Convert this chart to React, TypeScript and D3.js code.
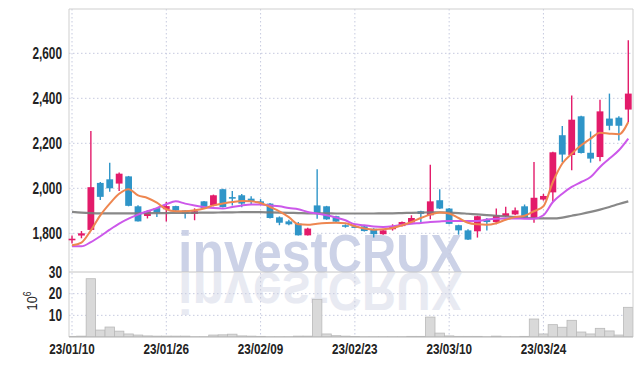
import React, { useEffect, useRef } from 'react'
import * as d3 from 'd3'

// trading days shown on the chart (yy/mm/dd)
const dates = [
  '23/01/10', '23/01/11', '23/01/12', '23/01/13', '23/01/16', '23/01/17', '23/01/18', '23/01/19', '23/01/20', '23/01/25',
  '23/01/26', '23/01/27', '23/01/30', '23/01/31', '23/02/01', '23/02/02', '23/02/03', '23/02/06', '23/02/07', '23/02/08',
  '23/02/09', '23/02/10', '23/02/13', '23/02/14', '23/02/15', '23/02/16', '23/02/17', '23/02/20', '23/02/21', '23/02/22',
  '23/02/23', '23/02/24', '23/02/27', '23/02/28', '23/03/02', '23/03/03', '23/03/06', '23/03/07', '23/03/08', '23/03/09',
  '23/03/10', '23/03/13', '23/03/14', '23/03/15', '23/03/16', '23/03/17', '23/03/20', '23/03/21', '23/03/22', '23/03/23',
  '23/03/24', '23/03/27', '23/03/28', '23/03/29', '23/03/30', '23/03/31', '23/04/03', '23/04/04', '23/04/05', '23/04/06',
]

const opens = [
  1770, 1790, 1815, 2024, 2040, 2021, 2053, 1920, 1877, 1912,
  1907, 1921, 1902, 1886, 1942, 1924, 1996, 1961, 1969, 1954,
  1942, 1932, 1871, 1853, 1843, 1791, 1924, 1920, 1876, 1836,
  1831, 1831, 1820, 1796, 1818, 1832, 1848, 1898, 1880, 1947,
  1910, 1836, 1813, 1809, 1862, 1850, 1877, 1884, 1920, 1868,
  1950, 1982, 2236, 2148, 2320, 2158, 2139, 2310, 2314, 2350,
]
const highs = [
  1790, 1810, 2255, 2028, 2114, 2070, 2055, 1925, 1903, 1914,
  1939, 1923, 1904, 1911, 1944, 1972, 1998, 1988, 1975, 1965,
  1952, 1935, 1875, 1860, 1850, 1825, 2085, 1922, 1878, 1840,
  1840, 1833, 1823, 1816, 1840, 1852, 1880, 1900, 2105, 1996,
  1912, 1838, 1818, 1878, 1868, 1910, 1918, 1915, 1928, 2117,
  1975, 2162, 2277, 2413, 2322, 2253, 2394, 2421, 2320, 2658,
]
const lows = [
  1755, 1778, 1810, 1948, 1985, 1988, 1920, 1852, 1866, 1872,
  1853, 1898, 1866, 1858, 1910, 1920, 1915, 1924, 1916, 1930,
  1925, 1866, 1836, 1836, 1790, 1790, 1865, 1860, 1850, 1825,
  1822, 1808, 1781, 1794, 1812, 1830, 1842, 1850, 1862, 1908,
  1840, 1794, 1770, 1781, 1813, 1840, 1872, 1880, 1866, 1847,
  1945, 1940, 2116, 2080, 2155, 2114, 2120, 2258, 2213, 2295,
]
const closes = [
  1776, 1800, 2005, 1962, 2000, 2065, 1922, 1853, 1898, 1892,
  1921, 1901, 1888, 1898, 1912, 1969, 1917, 1955, 1932, 1940,
  1937, 1868, 1847, 1840, 1791, 1821, 1888, 1862, 1852, 1830,
  1825, 1810, 1796, 1813, 1832, 1850, 1868, 1886, 1942, 1910,
  1842, 1813, 1772, 1876, 1850, 1880, 1889, 1902, 1868, 1958,
  1966, 2160, 2150, 2305, 2157, 2132, 2342, 2278, 2278, 2421,
]

// volume, millions of shares
const volumes = [
  0.3, 0.4, 26.9, 3.2, 4.6, 2.7, 1.4, 0.9, 0.5, 0.4,
  0.4, 0.4, 0.4, 0.1, 0.1, 0.9, 1.0, 1.3, 0.5, 0.4,
  0.3, 0.1, 0.1, 0.1, 0.4, 0.4, 17.4, 1.4, 0.6, 0.4,
  0.2, 0.1, 0.1, 0.1, 0.1, 0.1, 0.3, 0.3, 9.2, 1.8,
  0.5, 0.3, 0.3, 0.3, 0.1, 0.4, 0.1, 0.1, 0.3, 8.3,
  1.4, 5.7, 4.5, 7.7, 2.3, 1.4, 4.0, 2.8, 0.9, 13.7,
]

// moving averages
const maShort = [
  1747, 1759, 1813, 1880, 1932, 1976, 1996, 1969, 1957, 1936,
  1907, 1898, 1898, 1902, 1910, 1924, 1932, 1939, 1944, 1942,
  1935, 1917, 1898, 1872, 1840, 1838, 1843, 1846, 1847, 1845,
  1831, 1821, 1816, 1818, 1824, 1836, 1850, 1868, 1883, 1892,
  1888, 1868, 1847, 1840, 1838, 1845, 1860, 1872, 1878, 1898,
  1920, 2028, 2110, 2154, 2191, 2221, 2247, 2243, 2240, 2295,
]
const maMid = [
  1742, 1742, 1761, 1787, 1816, 1843, 1865, 1883, 1898, 1912,
  1929, 1942, 1932, 1924, 1917, 1912, 1910, 1917, 1924, 1928,
  1928, 1924, 1920, 1912, 1907, 1895, 1888, 1880, 1870, 1858,
  1840, 1836, 1830, 1828, 1831, 1838, 1843, 1846, 1850, 1853,
  1855, 1855, 1855, 1855, 1861, 1865, 1866, 1866, 1865, 1865,
  1880, 1939, 1976, 2006, 2028, 2050, 2095, 2132, 2169, 2221,
]
const maLong = [
  1895, 1892, 1890, 1889, 1889, 1889, 1889, 1889, 1890, 1890,
  1890, 1891, 1891, 1891, 1892, 1892, 1893, 1893, 1894, 1894,
  1894, 1893, 1892, 1891, 1890, 1889, 1889, 1889, 1888, 1888,
  1888, 1888, 1888, 1889, 1889, 1890, 1891, 1892, 1893, 1893,
  1892, 1890, 1887, 1884, 1881, 1878, 1875, 1872, 1869, 1867,
  1866, 1866, 1870, 1878, 1886, 1895, 1905, 1917, 1930, 1942,
]

const priceTicks = [1800, 2000, 2200, 2400, 2600]
const volumeTicks = [10, 20, 30]
const dateTicks = ['23/01/10', '23/01/26', '23/02/09', '23/02/23', '23/03/10', '23/03/24']

const W = 642
const H = 366
const plotLeft = 69
const plotRight = 633
const plotTop = 9
const divider = 272
const plotBottom = 337

const UP = '#e31b6a'
const DOWN = '#2f95c8'
const GRID = '#c6cadf'
const FONT = "'Liberation Sans', Arial, sans-serif"

export default function App() {
  const svgRef = useRef<SVGSVGElement>(null)

  useEffect(() => {
    const svg = d3.select(svgRef.current)
    svg.selectAll('*').remove()

    const x = d3.scaleBand<string>().domain(dates).range([67.3, plotRight])
    const cx = (i: number) => (x(dates[i]) as number) + x.bandwidth() / 2
    const y = d3.scaleLinear().domain([1628, 2797]).range([divider, plotTop])
    const yv = d3.scaleLinear().domain([0, 30]).range([plotBottom, divider])

    svg.append('clipPath').attr('id', 'plot-area')
      .append('rect')
      .attr('x', plotLeft).attr('y', plotTop)
      .attr('width', plotRight - plotLeft).attr('height', plotBottom - plotTop)

    // watermark + its reflection under the divider
    const wm = svg.append('g').attr('font-family', FONT).attr('font-weight', 'bold')
    const drawMark = (g: any, fill: string) => {
      const t = g.append('text').attr('x', 178).attr('y', divider).attr('fill', fill)
      t.append('tspan').attr('font-size', 58).text('invest')
      t.append('tspan').attr('font-size', 53).text('CRUX')
      t.attr('textLength', 284).attr('lengthAdjust', 'spacingAndGlyphs')
    }
    drawMark(wm.append('g'), '#ccd2e7')
    drawMark(wm.append('g').attr('transform', `translate(0,${2 * divider + 1}) scale(1,-1)`), '#e8eaf2')

    // grid
    const grid = svg.append('g').attr('stroke', GRID).attr('stroke-dasharray', '1.5,2.5').attr('stroke-width', 1)
    grid.selectAll('line.h').data(priceTicks).join('line')
      .attr('x1', plotLeft).attr('x2', plotRight)
      .attr('y1', d => y(d)).attr('y2', d => y(d))
    grid.selectAll('line.v').data(dateTicks).join('line')
      .attr('x1', d => cx(dates.indexOf(d))).attr('x2', d => cx(dates.indexOf(d)))
      .attr('y1', plotTop).attr('y2', plotBottom)
    grid.selectAll('line.vol').data(volumeTicks.slice(0, 2)).join('line')
      .attr('x1', plotLeft).attr('x2', plotRight)
      .attr('y1', d => yv(d)).attr('y2', d => yv(d))

    // volume bars
    svg.append('g').attr('clip-path', 'url(#plot-area)')
      .selectAll('rect').data(volumes).join('rect')
      .attr('x', (_, i) => x(dates[i]) as number)
      .attr('width', x.bandwidth())
      .attr('y', d => yv(d))
      .attr('height', d => plotBottom - yv(d))
      .attr('fill', '#d9d9d9')
      .attr('stroke', '#b9b9b9')
      .attr('stroke-width', 0.8)

    // frame
    const frame = svg.append('g').attr('stroke', '#cfcfcf').attr('fill', 'none')
    frame.append('line').attr('x1', plotLeft).attr('x2', plotRight).attr('y1', plotTop).attr('y2', plotTop)
    frame.append('line').attr('x1', plotLeft).attr('x2', plotLeft).attr('y1', plotTop).attr('y2', plotBottom)
    frame.append('line').attr('x1', plotRight).attr('x2', plotRight).attr('y1', plotTop).attr('y2', plotBottom)
    frame.append('line').attr('x1', plotLeft).attr('x2', plotRight).attr('y1', divider).attr('y2', divider).attr('stroke', '#c4c4c4')
    frame.append('line').attr('x1', plotLeft).attr('x2', plotRight).attr('y1', plotBottom).attr('y2', plotBottom).attr('stroke', '#b4b4b4')

    // candles
    const candles = svg.append('g').selectAll('g').data(dates).join('g')
    candles.append('line')
      .attr('x1', (_, i) => cx(i)).attr('x2', (_, i) => cx(i))
      .attr('y1', (_, i) => y(highs[i])).attr('y2', (_, i) => y(lows[i]))
      .attr('stroke', (_, i) => closes[i] >= opens[i] ? UP : DOWN)
      .attr('stroke-width', 1.4)
    candles.append('rect')
      .attr('x', (_, i) => cx(i) - 3.4)
      .attr('width', 6.8)
      .attr('y', (_, i) => y(Math.max(opens[i], closes[i])))
      .attr('height', (_, i) => Math.max(1.6, Math.abs(y(opens[i]) - y(closes[i]))))
      .attr('fill', (_, i) => closes[i] >= opens[i] ? UP : DOWN)

    // moving averages
    const line = (vals: number[]) => d3.line<number>()
      .x((_, i) => cx(i)).y(d => y(d)).curve(d3.curveMonotoneX)(vals)
    svg.append('path').attr('d', line(maLong)).attr('fill', 'none').attr('stroke', '#7b7b7b').attr('stroke-width', 2.2).attr('opacity', 0.9)
    svg.append('path').attr('d', line(maMid)).attr('fill', 'none').attr('stroke', '#cc58ea').attr('stroke-width', 2)
    svg.append('path').attr('d', line(maShort)).attr('fill', 'none').attr('stroke', '#ee8650').attr('stroke-width', 2)

    // axis labels, drawn narrow like the condensed face of the original
    const labels = svg.append('g').attr('font-family', FONT).attr('font-weight', 'bold').attr('fill', '#222')
    labels.selectAll('text.p').data(priceTicks).join('text')
      .attr('transform', d => `translate(62,${y(d)}) scale(0.74,1)`)
      .attr('dy', '0.36em')
      .attr('text-anchor', 'end').attr('font-size', 16)
      .text(d => d3.format(',')(d))
    labels.selectAll('text.v').data(volumeTicks).join('text')
      .attr('transform', d => `translate(62,${yv(d)}) scale(0.74,1)`)
      .attr('dy', '0.36em')
      .attr('text-anchor', 'end').attr('font-size', 16)
      .text(d => d)
    labels.selectAll('text.d').data(dateTicks).join('text')
      .attr('transform', d => `translate(${cx(dates.indexOf(d))},349) scale(0.78,1)`)
      .attr('dy', '0.36em')
      .attr('text-anchor', 'middle').attr('font-size', 15)
      .text(d => d)

    const unit = labels.append('text')
      .attr('transform', 'translate(37,301) rotate(-90) scale(0.85,1)')
      .attr('text-anchor', 'middle').attr('font-size', 15).attr('font-weight', 'normal')
    unit.append('tspan').text('10')
    unit.append('tspan').attr('font-size', 10).attr('dy', -6).text('6')
  }, [])

  return (
    <svg ref={svgRef} width={W} height={H}
      style={{ position: 'absolute', left: 0, top: 0, background: '#fff' }} />
  )
}
